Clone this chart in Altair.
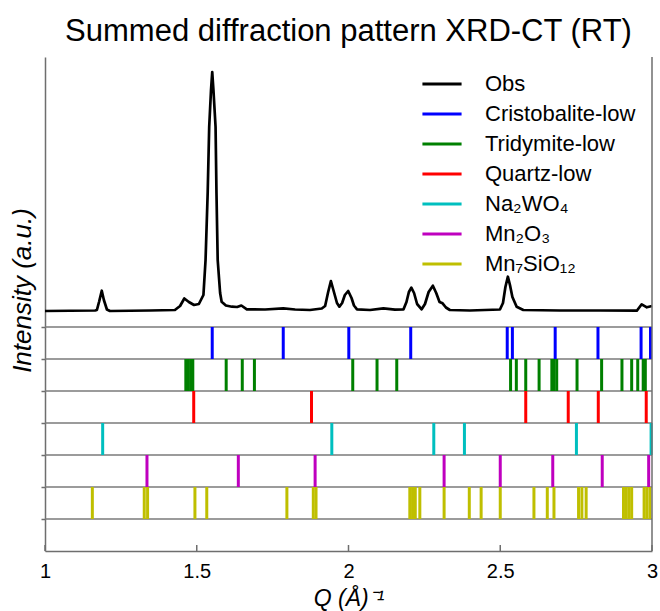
import altair as alt
import pandas as pd

# Observed summed pattern (Q in 1/Angstrom, intensity in a.u.)
obs_q = [1.000, 1.165, 1.171, 1.178, 1.187, 1.194, 1.204, 1.214, 1.346, 1.428,
         1.445, 1.459, 1.474, 1.491, 1.507, 1.522, 1.529, 1.536, 1.541, 1.547,
         1.551, 1.555, 1.562, 1.565, 1.569, 1.577, 1.582, 1.596, 1.616, 1.633,
         1.647, 1.665, 1.725, 1.785, 1.824, 1.873, 1.912, 1.923, 1.933, 1.942,
         1.952, 1.962, 1.970, 1.979, 1.988, 1.999, 2.010, 2.018, 2.028, 2.071,
         2.115, 2.153, 2.181, 2.191, 2.199, 2.207, 2.216, 2.226, 2.241, 2.252,
         2.264, 2.278, 2.289, 2.300, 2.310, 2.321, 2.334, 2.400, 2.499, 2.509,
         2.517, 2.525, 2.532, 2.540, 2.554, 2.576, 2.697, 2.829, 2.950, 2.966,
         2.983, 3.000]
obs_i = [16.0, 16.5, 17.0, 25.0, 36.3, 27.0, 17.5, 16.0, 16.5, 17.0,
         21.0, 28.5, 25.0, 22.0, 23.0, 32.0, 67.0, 134.0, 200.0, 237.0,
         255.0, 237.0, 200.0, 134.0, 67.0, 34.0, 25.3, 21.5, 20.3, 20.0,
         21.5, 17.7, 17.5, 18.7, 17.5, 17.0, 18.5, 21.0, 35.0, 46.0,
         35.0, 24.0, 20.3, 24.0, 32.0, 36.0, 29.0, 21.5, 17.7, 17.0,
         18.7, 17.3, 17.5, 25.0, 35.0, 39.3, 34.0, 23.0, 17.7, 23.0,
         35.0, 41.3, 34.0, 25.0, 23.7, 19.5, 17.0, 16.5, 17.5, 24.0,
         40.0, 50.3, 42.0, 30.0, 20.3, 17.0, 16.5, 16.5, 16.3, 22.7,
         19.7, 21.0]

phases = ["Cristobalite-low", "Tridymite-low", "Quartz-low",
          "Na₂WO₄", "Mn₂O₃", "Mn₇SiO₁₂"]
phase_colors = ["#0000FF", "#008000", "#FF0000", "#00BFBF", "#BF00BF", "#BFBF00"]

cristobalite = [1.551, 1.785, 2.001, 2.205, 2.523, 2.540, 2.681, 2.822, 2.964, 2.995]
tridymite = [1.464, 1.472, 1.480, 1.487, 1.597, 1.650, 1.690, 2.014, 2.094, 2.159,
             2.534, 2.553, 2.584, 2.628, 2.670, 2.677, 2.686, 2.753, 2.834, 2.901,
             2.933, 2.953, 2.971, 2.978]
quartz = [1.490, 1.878, 2.584, 2.724, 2.823, 2.981]
na2wo4 = [1.190, 1.945, 2.281, 2.382, 2.751, 2.997]
mn2o3 = [1.336, 1.637, 1.890, 2.315, 2.500, 2.673, 2.836, 2.989]
mn7sio12 = [1.156, 1.327, 1.338, 1.494, 1.533, 1.797, 1.884, 1.893, 2.202, 2.211,
            2.220, 2.235, 2.315, 2.398, 2.437, 2.500, 2.611, 2.655, 2.677, 2.758,
            2.769, 2.783, 2.906, 2.915, 2.924, 2.933, 2.974, 2.983, 2.993]
phase_peaks = [cristobalite, tridymite, quartz, na2wo4, mn2o3, mn7sio12]

x_tick_values = [1, 1.5, 2, 2.5, 3]
row_levels = [1, 2, 3, 4, 5, 6, 7]

W, H = 607, 494
ROW = 32.0

obs_df = pd.DataFrame({"Q": obs_q, "I": obs_i})
obs_df["phase"] = "Obs"

rows = []
for k, (name, vals) in enumerate(zip(phases, phase_peaks)):
    for q in vals:
        rows.append({"Q": q, "phase": name, "lo": 6 - k, "hi": 7 - k})
tick_df = pd.DataFrame(rows)
sep_df = pd.DataFrame({"level": row_levels})
xt_df = pd.DataFrame({"Q": x_tick_values})

x_scale = alt.Scale(domain=[1, 3], nice=False, zero=False)
y_scale = alt.Scale(domain=[0, H / ROW], nice=False, zero=False)
color_scale = alt.Scale(domain=["Obs"] + phases, range=["#000000"] + phase_colors)

FONT = "Liberation Sans"
AX = "#6e6e6e"

x_axis = alt.Axis(
    title="Q (Å)⁻¹", titleFontStyle="italic", titleFontSize=23, titleFont=FONT,
    titleFontWeight="normal", titleColor="black",
    values=x_tick_values, format="~g", labelFontSize=20, labelFont=FONT,
    labelColor="black", ticks=False, labelPadding=10, grid=False,
    domainColor=AX, domainWidth=1.5, titlePadding=6, labelFlush=False)
y_axis = alt.Axis(
    title="Intensity (a.u.)", titleFontStyle="italic", titleFontSize=26,
    titleFont=FONT, titleFontWeight="normal", titleColor="black",
    titleY=233,
    values=row_levels, labels=False, tickSize=4, tickColor=AX, tickWidth=1.5,
    domainColor=AX, domainWidth=1.5, grid=False, titlePadding=5)

legend = alt.Legend(
    orient="none", legendX=382, legendY=12, title=None,
    symbolType="M-1.45,0L1.45,0", symbolSize=729, symbolStrokeWidth=3,
    labelFontSize=22, labelFont=FONT, labelColor="black", labelOffset=28,
    rowPadding=4, padding=0, labelLimit=400,
)

line = alt.Chart(obs_df).transform_calculate(
    yy="7 + datum.I / %s" % ROW
).mark_line(strokeWidth=2.7, strokeJoin="round").encode(
    x=alt.X("Q:Q", scale=x_scale, axis=x_axis),
    y=alt.Y("yy:Q", scale=y_scale, axis=y_axis),
    color=alt.Color("phase:N", scale=color_scale, legend=legend),
)

seps = alt.Chart(sep_df).mark_rule(color="#7a7a7a", strokeWidth=1.5).encode(
    y=alt.Y("level:Q", scale=y_scale, axis=y_axis),
    x=alt.value(0), x2=alt.value(W),
)

ticks = alt.Chart(tick_df).mark_rule(strokeWidth=3).encode(
    x=alt.X("Q:Q", scale=x_scale, axis=x_axis),
    y=alt.Y("lo:Q", scale=y_scale, axis=y_axis),
    y2="hi:Q",
    color=alt.Color("phase:N", scale=color_scale, legend=legend),
)

xticks = alt.Chart(xt_df).mark_rule(color=AX, strokeWidth=1.5).encode(
    x=alt.X("Q:Q", scale=x_scale, axis=x_axis),
    y=alt.value(H), y2=alt.value(H - 6),
)

frame = alt.Chart(pd.DataFrame({"a": [0]})).mark_rule(color=AX, strokeWidth=1.5).encode(
    x=alt.value(W), y=alt.value(0), y2=alt.value(H),
)

chart = alt.layer(line, seps, ticks, xticks, frame).properties(
    width=W, height=H,
    title=alt.TitleParams("Summed diffraction pattern XRD-CT (RT)", fontSize=31,
                          font=FONT, fontWeight="normal", color="black",
                          anchor="middle", offset=8),
    autosize=alt.AutoSizeParams(type="none"),
    padding={"left": 45, "top": 57, "right": 8, "bottom": 60},
).configure(background="white").configure_view(stroke=None)

chart.save("out.html", embed_options={"renderer": "svg", "actions": False})
